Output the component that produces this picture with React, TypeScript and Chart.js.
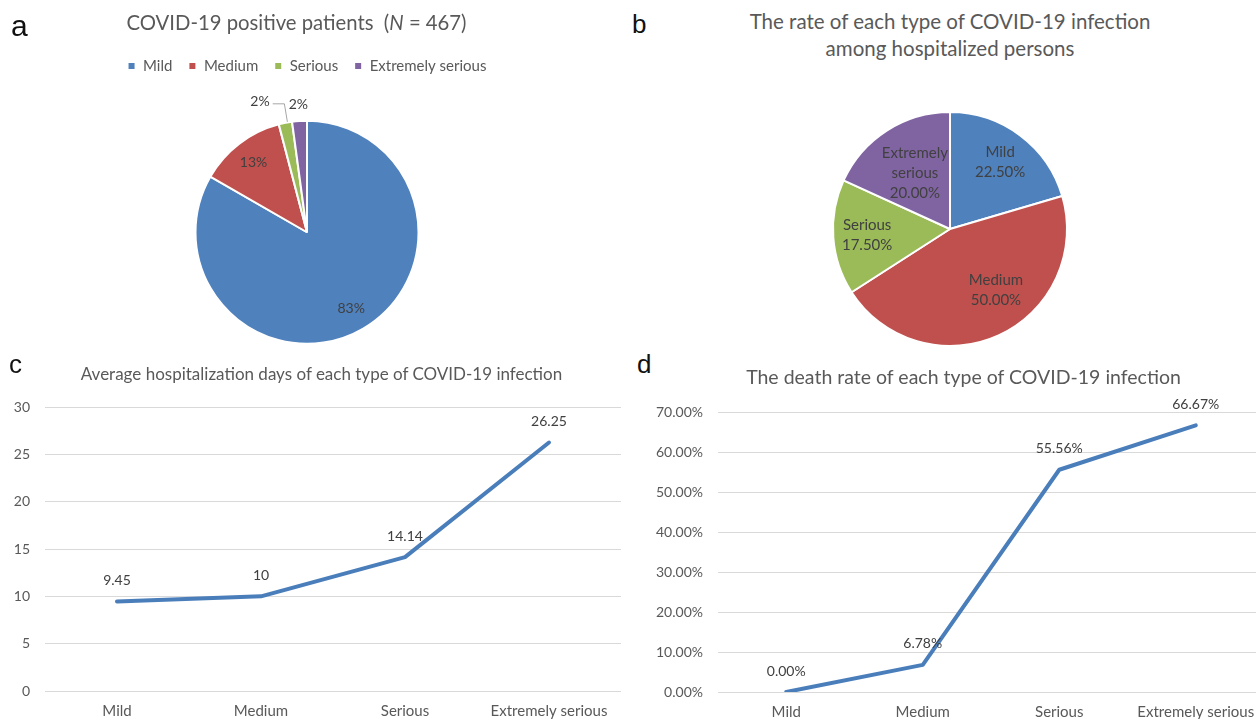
import React, { useEffect, useRef } from "react";
import { Chart, registerables } from "chart.js";

Chart.register(...registerables);

// ---------------- data ----------------
const categories = ["Mild", "Medium", "Serious", "Extremely serious"];
const positivePatientCounts = [389, 59, 9, 10]; // N = 467
const hospitalizedRates = [22.5, 50.0, 17.5, 20.0];
const hospitalizationDays = [9.45, 10, 14.14, 26.25];
const deathRates = [0.0, 6.78, 55.56, 66.67];
const daysTicks = [0, 5, 10, 15, 20, 25, 30];
const deathRateTicks = [0, 10, 20, 30, 40, 50, 60, 70];

// ---------------- styles ----------------
const FONT = "Lato, 'Open Sans', sans-serif";
const LETTER_FONT = "'Liberation Sans', Arial, sans-serif";
const TEXT_GREY = "#595959";
const LABEL_DARK = "#404040";
const GRID = "#d9d9d9";
const LINE_BLUE = "#4a7ebb";
const SLICE_COLORS = ["#4f81bd", "#c0504d", "#9bbb59", "#8064a2"];

// label placement inside the slices of panel b (fraction of slice angle, fraction of radius)
const hospitalizedLabelPlacement = [
  { angle: 0.5, radius: 0.715 },
  { angle: 0.424, radius: 0.653 },
  { angle: 0.5, radius: 0.71 },
  { angle: 0.51, radius: 0.565 },
];

type Placement = { angle: number; radius: number };

function makePieLabelPlugin(cfg: {
  format: (value: number, share: number, label: string) => string[];
  size: number;
  lineHeight: number;
  minInsideShare: number;
  insideRadius: number;
  outsideRadius: number;
  placement?: Placement[];
  leaderGap: number;
  leaderLift: number;
}) {
  return {
    id: "pieLabels",
    afterDatasetsDraw(chart: any) {
      const meta = chart.getDatasetMeta(0);
      const values = chart.data.datasets[0].data as number[];
      const total = values.reduce((s, v) => s + v, 0);
      const ctx: CanvasRenderingContext2D = chart.ctx;
      ctx.save();
      ctx.font = `${cfg.size}px ${FONT}`;
      ctx.fillStyle = LABEL_DARK;
      ctx.textAlign = "center";
      ctx.textBaseline = "middle";
      let prev: { left: number; top: number; bottom: number } | null = null;
      for (let i = meta.data.length - 1; i >= 0; i--) {
        const arc = meta.data[i];
        const { x, y, startAngle, endAngle, outerRadius } = arc.getProps(
          ["x", "y", "startAngle", "endAngle", "outerRadius"],
          true
        );
        const share = values[i] / total;
        const lines = cfg.format(values[i], share, chart.data.labels[i]);
        const place = cfg.placement ? cfg.placement[i] : null;
        const inside = share >= cfg.minInsideShare;
        const a = startAngle + (endAngle - startAngle) * (place ? place.angle : 0.5);
        const rr = outerRadius * (place ? place.radius : inside ? cfg.insideRadius : cfg.outsideRadius);
        let lx = x + Math.cos(a) * rr;
        let ly = y + Math.sin(a) * rr;
        const w = Math.max(...lines.map((l) => ctx.measureText(l).width));
        const h = lines.length * cfg.lineHeight;
        if (!inside && !place) {
          if (prev && lx + w / 2 > prev.left - 2) {
            const ex = x + Math.cos(a) * outerRadius;
            const ey = y + Math.sin(a) * outerRadius;
            const newRight = prev.left - cfg.leaderGap;
            lx = newRight - w / 2;
            ly = Math.min(ly, (prev.top + prev.bottom) / 2) - cfg.leaderLift;
            ctx.save();
            ctx.strokeStyle = "#a6a6a6";
            ctx.lineWidth = 1;
            ctx.beginPath();
            ctx.moveTo(newRight + 3, ly + 2.5);
            ctx.lineTo(ex - 1, ly + 2.5);
            ctx.lineTo(ex + 2, ey - 1);
            ctx.stroke();
            ctx.restore();
          }
          prev = { left: lx - w / 2, top: ly - h / 2, bottom: ly + h / 2 };
        }
        lines.forEach((l, k) => ctx.fillText(l, lx, ly - h / 2 + cfg.lineHeight * (k + 0.5)));
      }
      ctx.restore();
    },
  };
}

function makePointLabelPlugin(format: (v: number) => string, offset: number) {
  return {
    id: "pointLabels",
    afterDatasetsDraw(chart: any) {
      const meta = chart.getDatasetMeta(0);
      const values = chart.data.datasets[0].data as number[];
      const ctx: CanvasRenderingContext2D = chart.ctx;
      ctx.save();
      ctx.font = `14px ${FONT}`;
      ctx.fillStyle = LABEL_DARK;
      ctx.textAlign = "center";
      ctx.textBaseline = "middle";
      meta.data.forEach((pt: any, i: number) => {
        ctx.fillText(format(values[i]), pt.x, pt.y - offset);
      });
      ctx.restore();
    },
  };
}

function pieAConfig(): any {
  return {
    type: "pie",
    data: {
      labels: categories,
      datasets: [
        {
          data: positivePatientCounts,
          backgroundColor: SLICE_COLORS,
          borderColor: "#ffffff",
          borderWidth: 2,
          radius: 111.5,
        },
      ],
    },
    options: {
      animation: false,
      responsive: false,
      layout: { padding: { top: 42.5, left: 2, right: 0, bottom: 0 } },
      plugins: {
        tooltip: { enabled: false },
        title: { display: false },
        legend: {
          position: "top",
          labels: {
            boxWidth: 8,
            boxHeight: 8,
            padding: 16,
            color: TEXT_GREY,
            font: { family: FONT, size: 15 },
          },
        },
      },
    },
    plugins: [
      makePieLabelPlugin({
        format: (_v, share) => [`${Math.round(share * 100)}%`],
        size: 14,
        lineHeight: 17,
        minInsideShare: 0.05,
        insideRadius: 0.79,
        outsideRadius: 1.15,
        leaderGap: 19,
        leaderLift: 3,
      }),
    ],
  };
}

function pieBConfig(): any {
  return {
    type: "pie",
    data: {
      labels: categories,
      datasets: [
        {
          data: hospitalizedRates,
          backgroundColor: SLICE_COLORS,
          borderColor: "#ffffff",
          borderWidth: 2,
          radius: 117,
        },
      ],
    },
    options: {
      animation: false,
      responsive: false,
      layout: { padding: 0 },
      plugins: { tooltip: { enabled: false }, legend: { display: false } },
    },
    plugins: [
      makePieLabelPlugin({
        format: (v, _s, label) => [...label.split(" "), `${v.toFixed(2)}%`],
        size: 15,
        lineHeight: 20,
        minInsideShare: 0,
        insideRadius: 0.7,
        outsideRadius: 1.15,
        placement: hospitalizedLabelPlacement,
        leaderGap: 19,
        leaderLift: 3,
      }),
    ],
  };
}

function lineConfig(opts: {
  values: number[];
  ticks: number[];
  tickFormat: (v: number) => string;
  labelFormat: (v: number) => string;
  padding: { top: number; left: number; right: number; bottom: number };
  yWidth: number;
  xHeight: number;
}): any {
  const min = opts.ticks[0];
  const max = opts.ticks[opts.ticks.length - 1];
  return {
    type: "line",
    data: {
      labels: categories,
      datasets: [
        {
          data: opts.values,
          borderColor: LINE_BLUE,
          borderWidth: 4,
          borderJoinStyle: "round",
          borderCapStyle: "round",
          pointRadius: 0,
          pointHoverRadius: 0,
          tension: 0,
          fill: false,
        },
      ],
    },
    options: {
      animation: false,
      responsive: false,
      layout: { padding: opts.padding },
      plugins: { legend: { display: false }, tooltip: { enabled: false }, title: { display: false } },
      scales: {
        x: {
          offset: true,
          grid: { display: false, drawTicks: false },
          border: { display: false },
          ticks: { color: TEXT_GREY, font: { family: FONT, size: 15 }, padding: 11, maxRotation: 0, autoSkip: false },
          afterFit: (s: any) => {
            s.height = opts.xHeight;
          },
        },
        y: {
          min,
          max,
          grid: { color: GRID, lineWidth: 1, drawTicks: false },
          border: { display: false },
          ticks: {
            color: TEXT_GREY,
            font: { family: FONT, size: 14 },
            padding: 15,
            callback: (v: number) => opts.tickFormat(v),
          },
          afterBuildTicks: (s: any) => {
            s.ticks = opts.ticks.map((value) => ({ value }));
          },
          afterFit: (s: any) => {
            s.width = opts.yWidth;
            s.paddingTop = 0;
            s.paddingBottom = 0;
          },
        },
      },
    },
    plugins: [makePointLabelPlugin(opts.labelFormat, 21)],
  };
}

function ChartCanvas(props: { left: number; top: number; width: number; height: number; make: () => any }) {
  const ref = useRef<HTMLCanvasElement>(null);
  useEffect(() => {
    const chart = new Chart(ref.current as HTMLCanvasElement, props.make());
    return () => chart.destroy();
  }, []);
  return (
    <canvas
      ref={ref}
      width={props.width}
      height={props.height}
      style={{
        position: "absolute",
        left: props.left,
        top: props.top,
        width: props.width,
        height: props.height,
      }}
    />
  );
}

function Letter(props: { text: string; left: number; top: number; size: number }) {
  return (
    <div
      style={{
        position: "absolute",
        left: props.left,
        top: props.top,
        fontFamily: LETTER_FONT,
        fontSize: props.size,
        lineHeight: 1,
        color: "#111",
      }}
    >
      {props.text}
    </div>
  );
}

function Title(props: { cx: number; top: number; size: number; lineHeight?: number; children: any }) {
  return (
    <div
      style={{
        position: "absolute",
        left: props.cx,
        top: props.top,
        transform: "translateX(-50%)",
        whiteSpace: "pre",
        textAlign: "center",
        fontFamily: FONT,
        fontSize: props.size,
        lineHeight: props.lineHeight ? `${props.lineHeight}px` : 1,
        color: TEXT_GREY,
      }}
    >
      {props.children}
    </div>
  );
}

export default function App() {
  return (
    <div
      style={{
        position: "fixed",
        left: 0,
        top: 0,
        width: 1256,
        height: 719,
        overflow: "hidden",
        background: "#ffffff",
      }}
    >
      <ChartCanvas left={0} top={0} width={612} height={381} make={pieAConfig} />
      <ChartCanvas left={830} top={109} width={240} height={240} make={pieBConfig} />
      <ChartCanvas
        left={0}
        top={395}
        width={628}
        height={324}
        make={() =>
          lineConfig({
            values: hospitalizationDays,
            ticks: daysTicks,
            tickFormat: (v) => String(v),
            labelFormat: (v) => String(v),
            padding: { top: 12, left: 0, right: 7, bottom: 0 },
            yWidth: 45,
            xHeight: 28,
          })
        }
      />
      <ChartCanvas
        left={628}
        top={395}
        width={640}
        height={324}
        make={() =>
          lineConfig({
            values: deathRates,
            ticks: deathRateTicks,
            tickFormat: (v) => `${v.toFixed(2)}%`,
            labelFormat: (v) => `${v.toFixed(2)}%`,
            padding: { top: 17, left: 0, right: 4, bottom: 0 },
            yWidth: 90,
            xHeight: 27,
          })
        }
      />

      <Letter text="a" left={11} top={10.6} size={30} />
      <Letter text="b" left={632} top={11} size={26} />
      <Letter text="c" left={9} top={351} size={26} />
      <Letter text="d" left={637} top={351} size={26} />

      <Title cx={296.5} top={11.6} size={20.3}>
        {"COVID-19 positive patients  ("}
        <i>N</i>
        {" = 467)"}
      </Title>
      <Title cx={950} top={7.8} size={20.5} lineHeight={27.5}>
        {"The rate of each type of COVID-19 infection\namong hospitalized persons"}
      </Title>
      <Title cx={321.5} top={364.9} size={17}>
        {"Average hospitalization days of each type of COVID-19 infection"}
      </Title>
      <Title cx={963.5} top={366.8} size={19.5}>
        {"The death rate of each type of COVID-19 infection"}
      </Title>
    </div>
  );
}
